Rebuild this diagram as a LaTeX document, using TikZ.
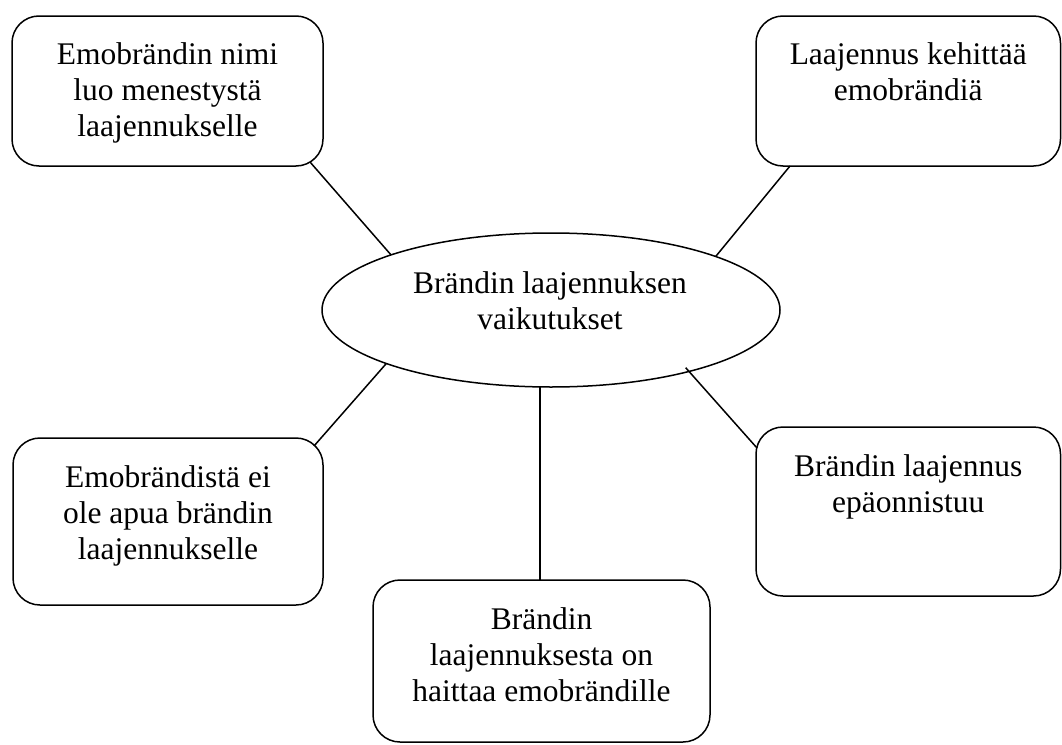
\documentclass[tikz,border=0pt]{standalone}
\usepackage{fontspec}
\setmainfont{Liberation Serif}
\usetikzlibrary{shapes.geometric}
\begin{document}
\begin{tikzpicture}[x=1pt,y=-1pt,
  card/.style={draw,line width=1.5pt,rounded corners=27pt,inner sep=0pt,outer sep=0pt,anchor=north west},
  hub/.style={draw,ellipse,line width=1.5pt,inner sep=0pt,outer sep=0pt,minimum width=458pt,minimum height=154pt},
  lbl/.style={anchor=north,align=center,inner sep=0pt,font=\fontsize{31.5}{36}\selectfont},
  conn/.style={line width=1.5pt}]
  % page
  \fill[white] (0,0) rectangle (1062,744);
  \useasboundingbox (0,0) rectangle (1062,744);

  % central ellipse
  \node[hub] (ell) at (551,310) {};
  \node[lbl] (tc) at (550,271) {Brändin laajennuksen\\vaikutukset};

  % surrounding boxes
  \node[card,minimum width=311pt,minimum height=150pt] (b1) at (12,16) {};
  \node[card,minimum width=304.5pt,minimum height=150pt] (b2) at (756,16) {};
  \node[card,minimum width=310pt,minimum height=167pt] (b4) at (13,438) {};
  \node[card,minimum width=304.5pt,minimum height=169pt] (b5) at (756,427) {};
  \node[card,minimum width=337pt,minimum height=162pt] (b6) at (373,580) {};

  % box texts
  \node[lbl] (t1) at ([yshift=-26pt]b1.north) {Emobrändin nimi\\luo menestystä\\laajennukselle};
  \node[lbl] (t2) at ([yshift=-26pt]b2.north) {Laajennus kehittää\\emobrändiä};
  \node[lbl] (t4) at ([yshift=-27pt]b4.north) {Emobrändistä ei\\ole apua brändin\\laajennukselle};
  \node[lbl] (t5) at ([yshift=-27pt]b5.north) {Brändin laajennus\\epäonnistuu};
  \node[lbl] (t6) at ([yshift=-27pt]b6.north) {Brändin\\laajennuksesta on\\haittaa emobrändille};

  % connectors
  \draw[conn] ([shift={(-13pt,4pt)}]b1.south east) -- (ell.161.8);
  \draw[conn] ([shift={(34pt,0pt)}]b2.south west) -- (ell.18.3);
  \draw[conn] ([shift={(-9pt,-8pt)}]b4.north east) -- (ell.198.5);
  \draw[conn,shorten <=-5pt] (ell.336.7) -- ([shift={(1pt,-21pt)}]b5.north west);
  \coordinate (b6top) at ([xshift=-1.5pt]b6.north);
  \draw[conn] (b6top) -- (b6top |- ell.south);
\end{tikzpicture}
\end{document}
